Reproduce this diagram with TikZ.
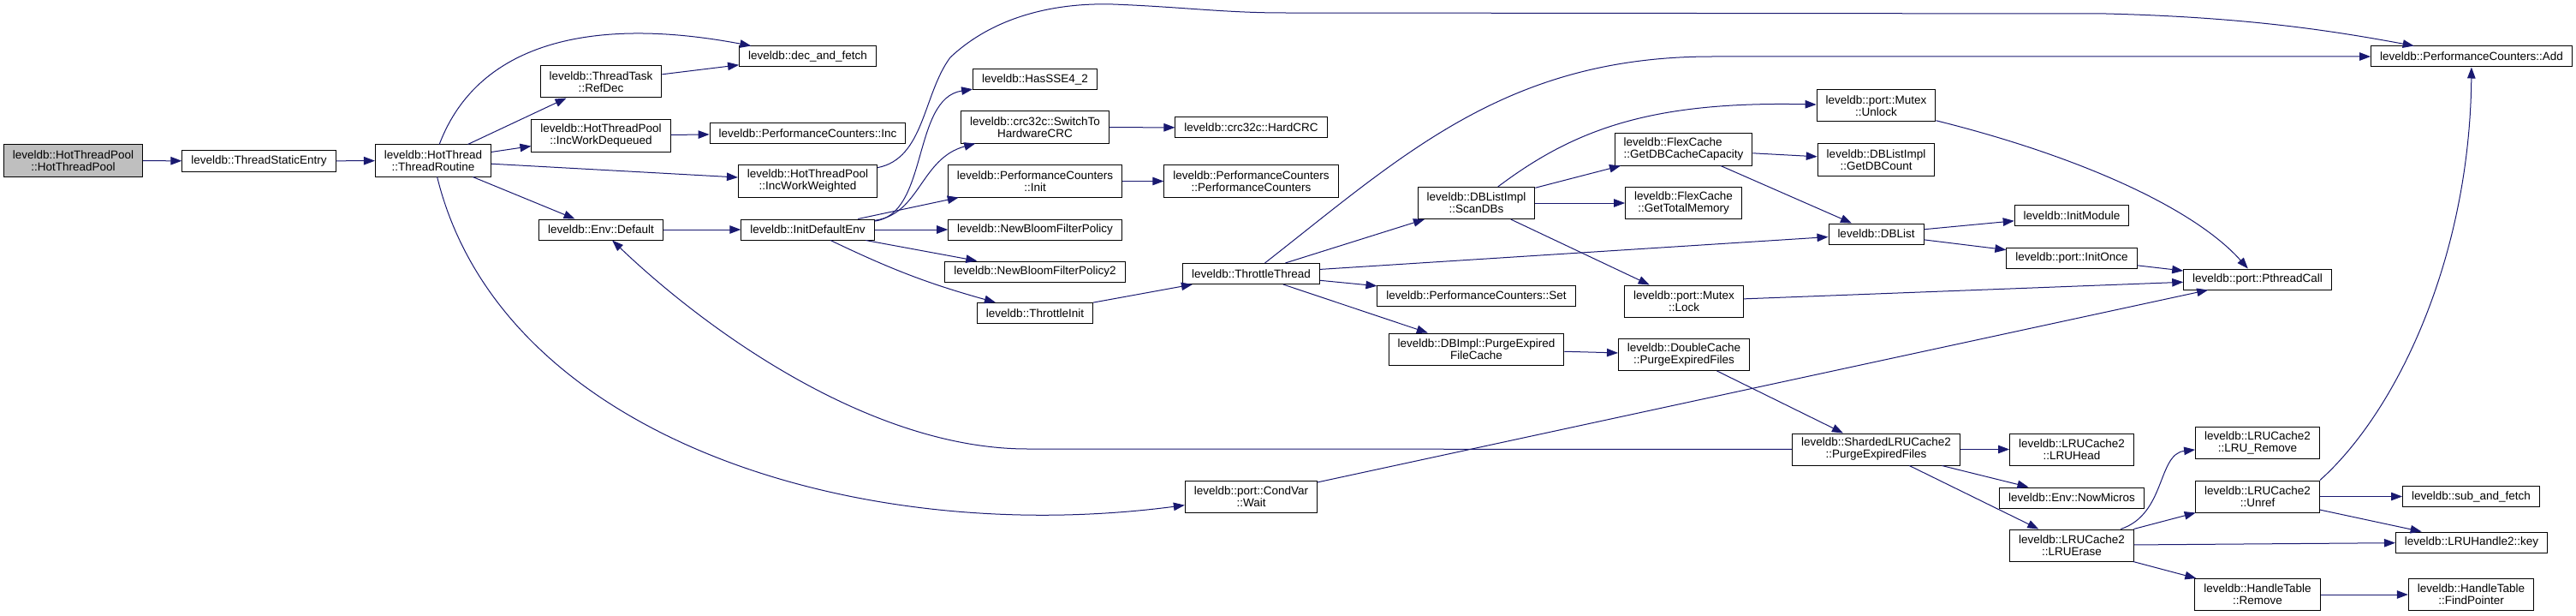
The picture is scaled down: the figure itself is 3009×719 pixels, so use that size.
\documentclass[tikz,border=0pt]{standalone}
\usepackage{fontspec}
\setmainfont{Liberation Sans}
\usetikzlibrary{arrows.meta}
\definecolor{navy}{HTML}{191970}
\definecolor{rootgray}{HTML}{BFBFBF}

\begin{document}
\begin{tikzpicture}[x=1bp,y=1bp,
    fn/.style={draw, line width=1bp, inner xsep=10.5bp, inner ysep=0pt, minimum height=24bp,
      align=center, font=\fontsize{13.5bp}{14bp}\selectfont},
    fnn/.style={fn, minimum height=37bp},
    call/.style={color=navy, line width=1bp, -{Triangle[length=13bp,width=9.5bp]}}]
        \useasboundingbox (0,0) rectangle (3009,-719);
        \node[fnn, fill=rootgray] (root) at (85.5,-187.5) {leveldb::HotThreadPool\\::HotThreadPool};
        \node[fn] (entry) at (302.5,-188) {leveldb::ThreadStaticEntry};
        \node[fnn] (routine) at (506,-187.5) {leveldb::HotThread\\::ThreadRoutine};
        \node[fnn] (refdec) at (702,-95.5) {leveldb::ThreadTask\\::RefDec};
        \node[fn] (decf) at (943.5,-66) {leveldb::dec\_and\_fetch};
        \node[fnn] (incdq) at (702,-158.5) {leveldb::HotThreadPool\\::IncWorkDequeued};
        \node[fn] (pcinc) at (943.5,-155.5) {leveldb::PerformanceCounters::Inc};
        \node[fnn] (incww) at (943.5,-211.5) {leveldb::HotThreadPool\\::IncWorkWeighted};
        \node[fn] (envdef) at (702,-268) {leveldb::Env::Default};
        \node[fn] (initenv) at (943.5,-268) {leveldb::InitDefaultEnv};
        \node[fn] (sse) at (1209,-93) {leveldb::HasSSE4\_2};
        \node[fnn] (swcrc) at (1209,-148.5) {leveldb::crc32c::SwitchTo\\HardwareCRC};
        \node[fn] (hardcrc) at (1461.5,-149) {leveldb::crc32c::HardCRC};
        \node[fnn] (pcinit) at (1209,-211.5) {leveldb::PerformanceCounters\\::Init};
        \node[fnn] (pcctor) at (1461.5,-211.5) {leveldb::PerformanceCounters\\::PerformanceCounters};
        \node[fn] (bloom) at (1209,-268) {leveldb::NewBloomFilterPolicy};
        \node[fn] (bloom2) at (1209,-317) {leveldb::NewBloomFilterPolicy2};
        \node[fn] (thinit) at (1209,-365.5) {leveldb::ThrottleInit};
        \node[fn] (ththr) at (1461.5,-319.5) {leveldb::ThrottleThread};
        \node[fnn] (wait) at (1461.5,-579.5) {leveldb::port::CondVar\\::Wait};
        \node[fnn] (scandb) at (1724.5,-237) {leveldb::DBListImpl\\::ScanDBs};
        \node[fn] (pcset) at (1724.5,-345) {leveldb::PerformanceCounters::Set};
        \node[fnn] (purgefc) at (1724.5,-407.5) {leveldb::DBImpl::PurgeExpired\\FileCache};
        \node[fnn, align=left] (getcap) at (1966.5,-174.5) {leveldb::FlexCache\\::GetDBCacheCapacity};
        \node[fnn] (totmem) at (1966.5,-237) {leveldb::FlexCache\\::GetTotalMemory};
        \node[fnn] (lock) at (1967,-351.5) {leveldb::port::Mutex\\::Lock};
        \node[fnn] (dcpurge) at (1967,-414) {leveldb::DoubleCache\\::PurgeExpiredFiles};
        \node[fnn] (unlock) at (2191.5,-123.5) {leveldb::port::Mutex\\::Unlock};
        \node[fnn] (dbcount) at (2191.5,-186.5) {leveldb::DBListImpl\\::GetDBCount};
        \node[fn] (dblist) at (2191.5,-273) {leveldb::DBList};
        \node[fnn] (slpurge) at (2191.5,-524.5) {leveldb::ShardedLRUCache2\\::PurgeExpiredFiles};
        \node[fn] (initmod) at (2420,-251.5) {leveldb::InitModule};
        \node[fn] (initonce) at (2420,-301) {leveldb::port::InitOnce};
        \node[fnn] (lruhead) at (2420,-524.5) {leveldb::LRUCache2\\::LRUHead};
        \node[fn] (nowmicros) at (2420,-581) {leveldb::Env::NowMicros};
        \node[fnn] (lruerase) at (2420,-636.5) {leveldb::LRUCache2\\::LRUErase};
        \node[fn] (pcadd) at (2887,-66) {leveldb::PerformanceCounters::Add};
        \node[fn] (pthread) at (2637,-326) {leveldb::port::PthreadCall};
        \node[fnn] (lruremove) at (2637,-516.5) {leveldb::LRUCache2\\::LRU\_Remove};
        \node[fnn] (unref) at (2637,-579.5) {leveldb::LRUCache2\\::Unref};
        \node[fn] (subf) at (2886.5,-579.5) {leveldb::sub\_and\_fetch};
        \node[fn] (key) at (2887,-633) {leveldb::LRUHandle2::key};
        \node[fnn] (htremove) at (2637,-694) {leveldb::HandleTable\\::Remove};
        \node[fnn] (findptr) at (2886.5,-694) {leveldb::HandleTable\\::FindPointer};

        \path[call] (root) edge (entry) (entry) edge (routine)
          (routine) edge (refdec) (refdec) edge (decf)
          (routine) edge (incdq) (incdq) edge (pcinc)
          (routine) edge (incww) (routine) edge (envdef)
          (envdef) edge (initenv)
          (initenv) edge (pcinit) (initenv) edge (bloom) (initenv) edge (bloom2)
          (initenv) edge[bend right=5] (thinit)
          (swcrc) edge (hardcrc) (pcinit) edge (pcctor)
          (thinit) edge (ththr)
          (ththr) edge (scandb) (ththr) edge (dblist) (ththr) edge (pcset) (ththr) edge (purgefc)
          (scandb) edge (getcap) (scandb) edge (totmem) (scandb) edge (lock)
          (getcap) edge (dbcount) (getcap) edge (dblist)
          (dblist) edge (initmod) (dblist) edge (initonce)
          (initonce) edge (pthread) (lock) edge (pthread) (wait) edge (pthread)
          (purgefc) edge (dcpurge) (dcpurge) edge (slpurge)
          (slpurge) edge (lruhead) (slpurge) edge (nowmicros) (slpurge) edge (lruerase)
          (lruerase) edge (unref) (lruerase) edge (key) (lruerase) edge (htremove)
          (unref) edge (subf) (unref) edge (key)
          (htremove) edge (findptr);

        \draw[call] (routine) .. controls (560,-45) and (700,-20) .. (decf);
        \draw[call] (routine) .. controls (585,-510) and (1000,-640) .. (wait);
        \draw[call] (incww) .. controls (1080,-185) and (1078,-110) .. (1110,-67)
          .. controls (1160,-20) and (1230,-3) .. (1300,-5)
          .. controls (1380,-8) and (1430,-15) .. (1500,-15) -- (2460,-16)
          .. controls (2620,-20) and (2720,-35) .. (pcadd);
        \draw[call] (initenv) .. controls (1085,-250) and (1065,-115) .. (sse);
        \draw[call] (initenv) .. controls (1075,-250) and (1075,-185) .. (swcrc);
        \draw[call] (ththr) .. controls (1640,-180) and (1760,-66) .. (2000,-66) -- (pcadd);
        \draw[call] (scandb) .. controls (1840,-150) and (1930,-118) .. (unlock);
        \draw[call] (unlock) .. controls (2420,-180) and (2560,-240) .. (pthread);
        \draw[call] (slpurge) -- (1200,-524) .. controls (1020,-524) and (830,-390) .. (envdef);
        \draw[call] (lruerase) .. controls (2530,-600) and (2520,-530) .. (lruremove);
        \draw[call] (unref.north east) .. controls (2800,-480) and (2885,-300) .. (pcadd);
\end{tikzpicture}
\end{document}
